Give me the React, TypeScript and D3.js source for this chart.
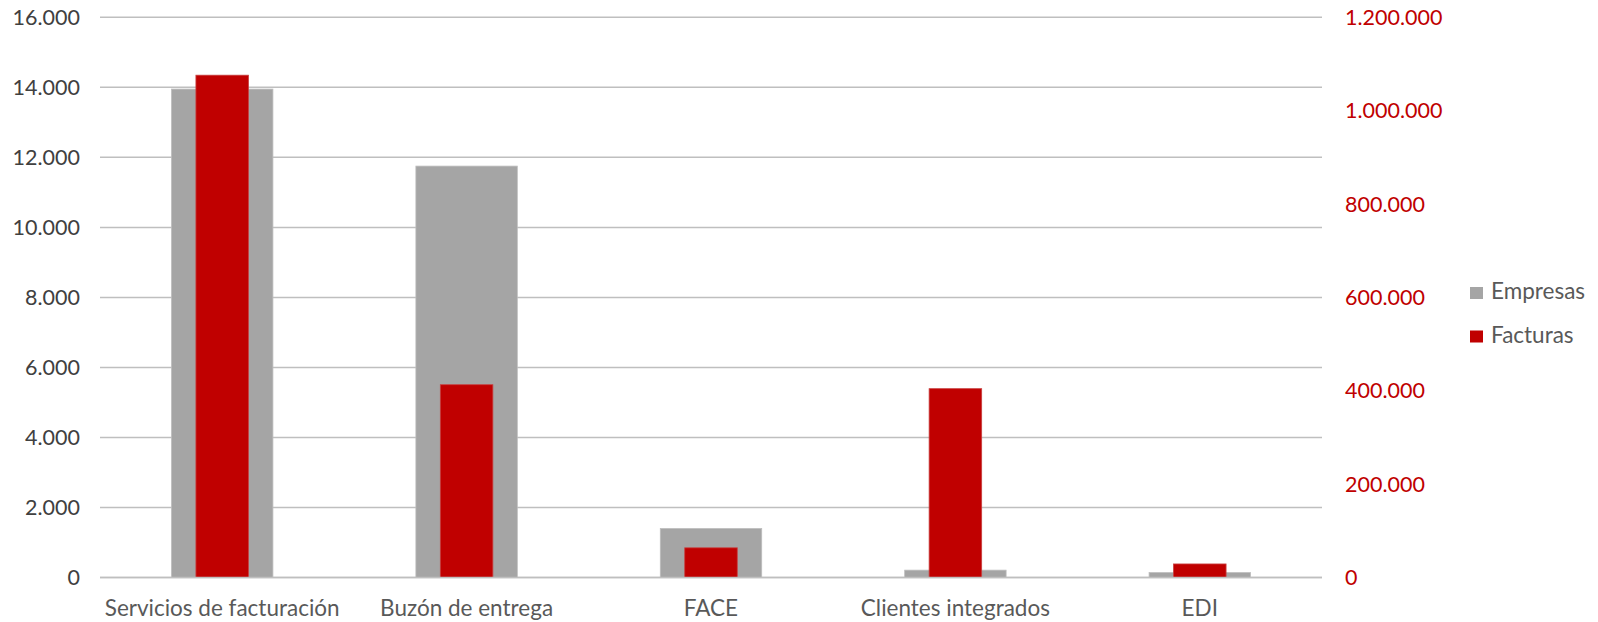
import React, { useEffect, useRef } from 'react';
import * as d3 from 'd3';

const categories = ['Servicios de facturación', 'Buzón de entrega', 'FACE', 'Clientes integrados', 'EDI'];
const empresas = [13950, 11750, 1400, 210, 140];
const facturas = [1076000, 413000, 63600, 404500, 29000];
const leftTicks = [0, 2000, 4000, 6000, 8000, 10000, 12000, 14000, 16000];
const rightTicks = [0, 200000, 400000, 600000, 800000, 1000000, 1200000];
const seriesNames = ['Empresas', 'Facturas'];

const GRAY = '#A5A5A5';
const RED = '#C00000';
const FONT = 'Lato, "Open Sans", sans-serif';

const fmt = (v: number) => d3.format(',')(v).replace(/,/g, '.');

const App: React.FC = () => {
  const ref = useRef<SVGSVGElement | null>(null);

  useEffect(() => {
    const svg = d3.select(ref.current);
    svg.selectAll('*').remove();

    const left = 100;
    const right = 1322;
    const top = 17.3;
    const bottom = 577.5;

    const x = d3.scaleBand<string>().domain(categories).range([left, right]);
    const yL = d3.scaleLinear().domain([0, 16000]).range([bottom, top]);
    const yR = d3.scaleLinear().domain([0, 1200000]).range([bottom, top]);

    // gridlines
    svg.append('g')
      .selectAll('line')
      .data(leftTicks)
      .enter()
      .append('line')
      .attr('x1', left)
      .attr('x2', right)
      .attr('y1', d => yL(d))
      .attr('y2', d => yL(d))
      .attr('stroke', '#BFBFBF')
      .attr('stroke-width', 1.5);

    const grayW = x.bandwidth() * 0.415;
    const redW = x.bandwidth() * 0.215;

    svg.append('g')
      .selectAll('rect')
      .data(categories)
      .enter()
      .append('rect')
      .attr('x', d => x(d)! + x.bandwidth() / 2 - grayW / 2)
      .attr('width', grayW)
      .attr('y', (d, i) => yL(empresas[i]))
      .attr('height', (d, i) => bottom - yL(empresas[i]))
      .attr('fill', GRAY)
      .attr('stroke', '#BDBDBD')
      .attr('stroke-width', 0.8);

    svg.append('g')
      .selectAll('rect')
      .data(categories)
      .enter()
      .append('rect')
      .attr('x', d => x(d)! + x.bandwidth() / 2 - redW / 2)
      .attr('width', redW)
      .attr('y', (d, i) => yR(facturas[i]))
      .attr('height', (d, i) => bottom - yR(facturas[i]))
      .attr('fill', RED)
      .attr('stroke', '#C84040')
      .attr('stroke-width', 0.8);

    // baseline on top
    svg.append('line')
      .attr('x1', left)
      .attr('x2', right)
      .attr('y1', bottom)
      .attr('y2', bottom)
      .attr('stroke', '#BFBFBF')
      .attr('stroke-width', 1.5);

    // left axis labels
    svg.append('g')
      .selectAll('text')
      .data(leftTicks)
      .enter()
      .append('text')
      .attr('x', 80)
      .attr('y', d => yL(d))
      .attr('dy', '0.35em')
      .attr('text-anchor', 'end')
      .attr('font-family', FONT)
      .attr('font-size', 21.5)
      .attr('fill', '#404040')
      .text(d => fmt(d));

    // right axis labels
    svg.append('g')
      .selectAll('text')
      .data(rightTicks)
      .enter()
      .append('text')
      .attr('x', 1345)
      .attr('y', d => yR(d))
      .attr('dy', '0.35em')
      .attr('text-anchor', 'start')
      .attr('font-family', FONT)
      .attr('font-size', 21.5)
      .attr('fill', RED)
      .text(d => fmt(d));

    // category labels
    svg.append('g')
      .selectAll('text')
      .data(categories)
      .enter()
      .append('text')
      .attr('x', d => x(d)! + x.bandwidth() / 2)
      .attr('y', 616)
      .attr('text-anchor', 'middle')
      .attr('font-family', FONT)
      .attr('font-size', 22.5)
      .attr('fill', '#595959')
      .text(d => d);

    // legend
    const legend = svg.append('g')
      .selectAll('g')
      .data(seriesNames)
      .enter()
      .append('g')
      .attr('transform', (d, i) => `translate(1470, ${287 + i * 43.5})`);
    legend.append('rect')
      .attr('width', 13)
      .attr('height', 12)
      .attr('fill', (d, i) => (i === 0 ? GRAY : RED));
    legend.append('text')
      .attr('x', 21)
      .attr('y', 12)
      .attr('font-family', FONT)
      .attr('font-size', 22.5)
      .attr('fill', '#595959')
      .text(d => d);
  }, []);

  return (
    <svg
      ref={ref}
      width={1598}
      height={622}
      style={{ position: 'absolute', left: 0, top: 0, background: '#fff' }}
    />
  );
};

export default App;
